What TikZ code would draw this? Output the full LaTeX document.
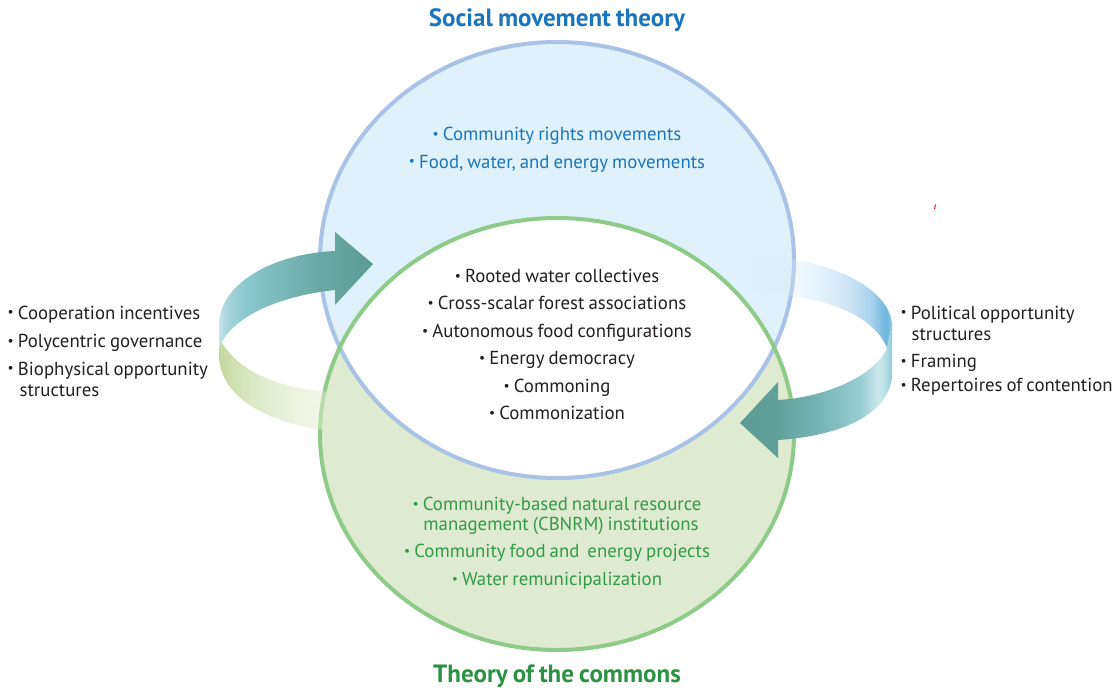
\documentclass[tikz,border=0pt]{standalone}
\usepackage{fontspec}
\usepackage{graphicx}
\setmainfont{PT Sans}[WordSpace=0.8]
\usetikzlibrary{fadings}

% palette
\definecolor{blueFill}{HTML}{DFF1FA}
\definecolor{greenFill}{HTML}{DEEBD0}
\definecolor{blueRim}{HTML}{A9C3E7}
\definecolor{greenRim}{HTML}{8ECB88}
\definecolor{blueText}{HTML}{1B75BC}
\definecolor{greenText}{HTML}{339A48}
\definecolor{greenTitle}{HTML}{2B9243}
\definecolor{darkText}{HTML}{231F20}

% ribbon colours
\definecolor{tlA}{HTML}{C8E4E7}
\definecolor{tlB}{HTML}{A9D6DB}
\definecolor{tlC}{HTML}{8CC8D0}
\definecolor{tlD}{HTML}{7AB8BA}
\definecolor{tlE}{HTML}{69A9A3}
\definecolor{tlF}{HTML}{5B9B92}
\definecolor{glA}{HTML}{C3D79C}
\definecolor{glB}{HTML}{CDE0AF}
\definecolor{glC}{HTML}{DDEAC9}
\definecolor{glD}{HTML}{E6F0D8}
\definecolor{brA}{HTML}{D9EFFA}
\definecolor{brB}{HTML}{D0EAF8}
\definecolor{brC}{HTML}{BFDCF2}
\definecolor{brD}{HTML}{9ACBEA}
\definecolor{brE}{HTML}{6AB3DE}
\definecolor{brF}{HTML}{88C2E4}
\definecolor{trA}{HTML}{5C9C93}
\definecolor{trB}{HTML}{62A199}
\definecolor{trC}{HTML}{77B5B6}
\definecolor{trD}{HTML}{96CCD3}
\definecolor{trE}{HTML}{CBE7EB}
\definecolor{trF}{HTML}{B4DDE2}
\definecolor{trG}{HTML}{90C9D1}

% horizontal shadings (25bp..75bp spans the path)
\pgfdeclarehorizontalshading{tealLeft}{100bp}{color(0bp)=(tlA); color(25bp)=(tlA); color(27.3bp)=(tlB); color(33.4bp)=(tlC); color(44.8bp)=(tlD); color(57.8bp)=(tlE); color(75bp)=(tlF); color(100bp)=(tlF)}
\pgfdeclarehorizontalshading{greenLeft}{100bp}{color(0bp)=(glA); color(25bp)=(glA); color(32bp)=(glB); color(46bp)=(glC); color(75bp)=(glD); color(100bp)=(glD)}
\pgfdeclarehorizontalshading{blueRight}{100bp}{color(0bp)=(brA); color(25bp)=(brA); color(43.7bp)=(brB); color(57.3bp)=(brC); color(67.5bp)=(brD); color(72.6bp)=(brE); color(75bp)=(brF); color(100bp)=(brF)}
\pgfdeclarehorizontalshading{tealRight}{100bp}{color(0bp)=(trA); color(25bp)=(trA); color(37.5bp)=(trB); color(51.3bp)=(trC); color(64.5bp)=(trD); color(70.4bp)=(trE); color(73bp)=(trF); color(75bp)=(trG); color(100bp)=(trG)}

\tikzfading[name=fadeOutRight, left color=transparent!0, middle color=transparent!10, right color=transparent!75]
\tikzfading[name=fadeInLeft, left color=transparent!100, middle color=transparent!0, right color=transparent!0]

\newcommand\blt{\raisebox{0.22ex}{\scalebox{0.72}{•}}\hspace{0.22em}}

\begin{document}
\begin{tikzpicture}[x=1pt,y=-1pt,
  body/.style={font=\fontsize{18.8}{22}\selectfont, inner sep=0pt, anchor=base},
  lbody/.style={body, anchor=base west},
  ttl/.style={font=\fontsize{25}{29}\selectfont\bfseries, inner sep=0pt, anchor=base},
  rim/.style={line width=4pt}]

\useasboundingbox (0,0) rectangle (1112,688);

% the two overlapping theory fields
\fill[blueFill] (557,260) ellipse [x radius=237pt, y radius=218pt];
\fill[greenFill] (557,434) ellipse [x radius=237pt, y radius=216pt];
\begin{scope}
  \clip (557,260) ellipse [x radius=237pt, y radius=218pt];
  \fill[white] (557,434) ellipse [x radius=237pt, y radius=216pt];
\end{scope}
\draw[rim, blueRim] (557,260) ellipse [x radius=237pt, y radius=218pt];
\draw[rim, greenRim] (557,434) ellipse [x radius=237pt, y radius=216pt];

% left ribbon: lower green band, then teal arrow
\path[shade, shading=greenLeft, path fading=fadeOutRight]
  (219,332) -- (219,358) .. controls (222,402) and (278,431) .. (362,433)
  -- (362,393) .. controls (300,394) and (245,380) .. (222,343) -- cycle;
\path[shade, shading=tealLeft]
  (219,348) -- (219,325) .. controls (219,285) and (270,254) .. (335,251)
  -- (335,232) -- (373,264) -- (335,305) -- (335,290)
  .. controls (280,296) and (238,315) .. (223,340) -- cycle;

% right ribbon: upper blue band, then teal arrow
\path[shade, shading=blueRight, path fading=fadeInLeft]
  (748,255) .. controls (830,257) and (890,288) .. (892,325)
  -- (887,348) .. controls (875,318) and (830,294) .. (748,293) -- cycle;
\path[shade, shading=tealRight]
  (892,325) -- (892,377) .. controls (888,415) and (840,436) .. (778,440)
  -- (778,458) -- (740,423) -- (778,382) -- (778,400)
  .. controls (820,398) and (874,378) .. (887,348) -- cycle;

% titles
\node[ttl, text=blueText] (smt) at (557,26) {Social movement theory};
\node[ttl, text=greenTitle] (toc) at (557,682) {Theory of the commons};

% social movement items
\node[body, text=blueText] (s1) at (557,140.5) {\blt Community rights movements};
\node[body, text=blueText] (s2) at (557,168) {\blt Food, water, and energy movements};

% shared items
\node[body, text=darkText] (c1) at (557,282.5) {\blt Rooted water collectives};
\node[body, text=darkText] (c2) at (557,309.9) {\blt Cross-scalar forest associations};
\node[body, text=darkText] (c3) at (557,337.3) {\blt Autonomous food configurations};
\node[body, text=darkText] (c4) at (557,364.7) {\blt Energy democracy};
\node[body, text=darkText] (c5) at (557,392.1) {\blt Commoning};
\node[body, text=darkText] (c6) at (557,419.5) {\blt Commonization};

% commons items
\node[body, text=greenText] (g1) at (557,510.7) {\blt Community-based natural resource};
\node[body, text=greenText] (g1b) at (561,530) {management (CBNRM) institutions};
\node[body, text=greenText] (g2) at (557,557.7) {\blt Community food and\ \ energy projects};
\node[body, text=greenText] (g3) at (557,585.7) {\blt Water remunicipalization};

% left list
\node[lbody, text=darkText] (l1) at (7.5,319) {\blt Cooperation incentives};
\node[lbody, text=darkText] (l2) at (7.5,347.3) {\blt Polycentric governance};
\node[lbody, text=darkText] (l3) at (7.5,375) {\blt Biophysical opportunity};
\node[lbody, text=darkText] (l3b) at (19.5,396.5) {structures};

% right list
\node[lbody, text=darkText] (r1) at (900.5,319) {\blt Political opportunity};
\node[lbody, text=darkText] (r1b) at (911.5,340.5) {structures};
\node[lbody, text=darkText] (r2) at (900.5,367.7) {\blt Framing};
\node[lbody, text=darkText] (r3) at (900.5,391.7) {\blt Repertoires of contention};

% small red stroke
\draw[red, line width=1pt] (934.6,209) -- (935.4,204.5);

\end{tikzpicture}
\end{document}
